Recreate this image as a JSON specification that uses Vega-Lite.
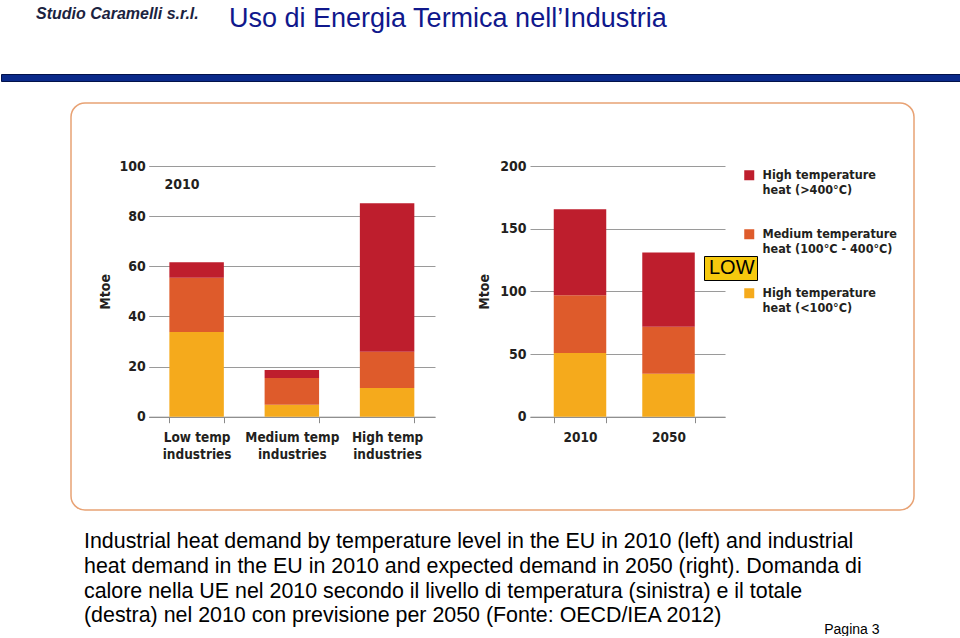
{
  "$schema": "https://vega.github.io/schema/vega-lite/v6.json",
  "background": "white",
  "padding": {"left": 0, "top": 5, "right": 0, "bottom": 0},
  "spacing": 20,
  "resolve": {"scale": {"color": "independent", "shape": "independent"}},
  "config": {
    "view": {"stroke": null},
    "font": "Liberation Sans",
    "axis": {
      "labelFont": "DejaVu Sans Condensed, DejaVu Sans, sans-serif",
      "titleFont": "DejaVu Sans Condensed, DejaVu Sans, sans-serif",
      "labelFontWeight": "bold",
      "titleFontWeight": "bold",
      "labelFontSize": 14,
      "titleFontSize": 14,
      "labelColor": "#231F20",
      "titleColor": "#231F20"
    }
  },
  "vconcat": [
    {
      "spacing": 10,
      "hconcat": [
        {
          "width": 218,
          "height": 1,
          "data": {"values": []},
          "mark": "point",
          "title": {
            "text": "Studio Caramelli s.r.l.",
            "anchor": "start",
            "dx": 35,
            "font": "Liberation Sans",
            "fontStyle": "italic",
            "fontWeight": "bold",
            "fontSize": 16,
            "color": "#1B2340",
            "offset": 30
          }
        },
        {
          "width": 732,
          "height": 1,
          "data": {"values": []},
          "mark": "point",
          "title": {
            "text": "Uso di Energia Termica nell’Industria",
            "anchor": "start",
            "font": "Liberation Sans",
            "fontSize": 27,
            "fontWeight": "normal",
            "color": "#10188C",
            "offset": 19
          }
        }
      ]
    },
    {
      "width": 960,
      "height": 7,
      "data": {"values": []},
      "mark": "point",
      "view": {"fill": "#0A2A8A", "stroke": "#03124A", "strokeWidth": 1}
    },
    {
      "spacing": 10,
      "resolve": {"scale": {"color": "independent", "shape": "independent"}},
      "hconcat": [
        {
          "width": 59,
          "height": 407,
          "data": {"values": []},
          "mark": "point"
        },
        {
          "width": 843,
          "height": 407,
          "view": {"fill": "white", "stroke": "#E8A274", "strokeWidth": 1.5, "cornerRadius": 14},
          "layer": [
            {
              "data": {
                "values": [
                  {"industry": "Low temp industries", "level": "Low", "tier": 1, "mtoe": 33.8},
                  {"industry": "Low temp industries", "level": "Medium", "tier": 2, "mtoe": 21.6},
                  {"industry": "Low temp industries", "level": "High", "tier": 3, "mtoe": 6.2},
                  {"industry": "Medium temp industries", "level": "Low", "tier": 1, "mtoe": 4.8},
                  {"industry": "Medium temp industries", "level": "Medium", "tier": 2, "mtoe": 10.6},
                  {"industry": "Medium temp industries", "level": "High", "tier": 3, "mtoe": 3.2},
                  {"industry": "High temp industries", "level": "Low", "tier": 1, "mtoe": 11.4},
                  {"industry": "High temp industries", "level": "Medium", "tier": 2, "mtoe": 14.5},
                  {"industry": "High temp industries", "level": "High", "tier": 3, "mtoe": 59.2}
                ]
              },
              "mark": {"type": "bar"},
              "encoding": {
                "x": {
                  "field": "industry",
                  "type": "nominal",
                  "scale": {
                    "domain": ["Low temp industries", "Medium temp industries", "High temp industries"],
                    "range": [77.7, 364],
                    "paddingInner": 0.428,
                    "paddingOuter": 0.217
                  },
                  "axis": {
                    "orient": "bottom",
                    "offset": -93.3,
                    "title": "2010",
                    "titleX": 93,
                    "titleY": -232.7,
                    "titleAlign": "left",
                    "titleBaseline": "middle",
                    "titleAngle": 0,
                    "domain": true,
                    "domainColor": "#8A8A8A",
                    "ticks": true,
                    "tickBand": "extent",
                    "tickColor": "#8A8A8A",
                    "tickSize": 6,
                    "labelAngle": 0,
                    "labelFontSize": 13.5,
                    "labelPadding": 8,
                    "labelLineHeight": 17,
                    "labelExpr": "datum.label ? [slice(datum.label, 0, indexof(datum.label, ' industries')), 'industries'] : ''",
                    "grid": false
                  }
                },
                "y": {
                  "field": "mtoe",
                  "type": "quantitative",
                  "stack": "zero",
                  "scale": {"domain": [0, 100], "range": [313.7, 63], "nice": false},
                  "axis": {
                    "orient": "left",
                    "offset": -77.7,
                    "values": [0, 20, 40, 60, 80, 100],
                    "grid": true,
                    "gridColor": "#9A9A9A",
                    "domain": false,
                    "ticks": false,
                    "labelPadding": 3.5,
                    "title": "Mtoe",
                    "titlePadding": 6
                  }
                },
                "color": {
                  "field": "level",
                  "type": "nominal",
                  "scale": {"domain": ["High", "Medium", "Low"], "range": ["#BE1E2D", "#DE5B2B", "#F5AA1C"]},
                  "legend": {
                    "orient": "none",
                    "legendX": 672,
                    "legendY": 66,
                    "title": null,
                    "symbolType": "square",
                    "symbolSize": 100,
                    "symbolStrokeWidth": 0,
                    "labelFont": "DejaVu Sans Condensed, DejaVu Sans, sans-serif",
                    "labelFontWeight": "bold",
                    "labelFontSize": 12.5,
                    "labelColor": "#231F20",
                    "labelOffset": 7,
                    "labelLimit": 220,
                    "rowPadding": 31,
                    "labelExpr": "datum.label == 'High' ? ['High temperature', 'heat (>400°C)'] : datum.label == 'Medium' ? ['Medium temperature', 'heat (100°C - 400°C)'] : ['High temperature', 'heat (<100°C)']"
                  }
                },
                "order": {"field": "tier", "type": "quantitative"}
              }
            },
            {
              "data": {
                "values": [
                  {"year": "2010", "level": "Low", "tier": 1, "mtoe": 50.8},
                  {"year": "2010", "level": "Medium", "tier": 2, "mtoe": 46.0},
                  {"year": "2010", "level": "High", "tier": 3, "mtoe": 68.6},
                  {"year": "2050", "level": "Low", "tier": 1, "mtoe": 34.3},
                  {"year": "2050", "level": "Medium", "tier": 2, "mtoe": 37.5},
                  {"year": "2050", "level": "High", "tier": 3, "mtoe": 59.1}
                ]
              },
              "mark": {"type": "bar"},
              "encoding": {
                "x": {
                  "field": "year",
                  "type": "nominal",
                  "scale": {
                    "domain": ["2010", "2050"],
                    "range": [459, 654],
                    "paddingInner": 0.407,
                    "paddingOuter": 0.305,
                    "align": 0.44
                  },
                  "axis": {
                    "orient": "bottom",
                    "offset": -93.3,
                    "title": null,
                    "domain": true,
                    "domainColor": "#8A8A8A",
                    "ticks": true,
                    "tickBand": "extent",
                    "tickColor": "#8A8A8A",
                    "tickSize": 6,
                    "labelAngle": 0,
                    "labelFontSize": 13.5,
                    "labelPadding": 8,
                    "grid": false
                  }
                },
                "y": {
                  "field": "mtoe",
                  "type": "quantitative",
                  "stack": "zero",
                  "scale": {"domain": [0, 200], "range": [313.7, 63], "nice": false},
                  "axis": {
                    "orient": "left",
                    "offset": -459,
                    "values": [0, 50, 100, 150, 200],
                    "grid": true,
                    "gridColor": "#9A9A9A",
                    "domain": false,
                    "ticks": false,
                    "labelPadding": 4,
                    "title": "Mtoe",
                    "titlePadding": 8
                  }
                },
                "color": {
                  "field": "level",
                  "type": "nominal",
                  "scale": {"domain": ["High", "Medium", "Low"], "range": ["#BE1E2D", "#DE5B2B", "#F5AA1C"]},
                  "legend": {
                    "orient": "none",
                    "legendX": 672,
                    "legendY": 66,
                    "title": null,
                    "symbolType": "square",
                    "symbolSize": 100,
                    "symbolStrokeWidth": 0,
                    "labelFont": "DejaVu Sans Condensed, DejaVu Sans, sans-serif",
                    "labelFontWeight": "bold",
                    "labelFontSize": 12.5,
                    "labelColor": "#231F20",
                    "labelOffset": 7,
                    "labelLimit": 220,
                    "rowPadding": 31,
                    "labelExpr": "datum.label == 'High' ? ['High temperature', 'heat (>400°C)'] : datum.label == 'Medium' ? ['Medium temperature', 'heat (100°C - 400°C)'] : ['High temperature', 'heat (<100°C)']"
                  }
                },
                "order": {"field": "tier", "type": "quantitative"}
              }
            },
            {
              "data": {"values": [{"note": "LOW"}]},
              "mark": {"type": "point", "opacity": 0},
              "encoding": {
                "shape": {
                  "field": "note",
                  "type": "nominal",
                  "legend": {
                    "orient": "none",
                    "legendX": 633,
                    "legendY": 153,
                    "title": null,
                    "fillColor": "#F6C90E",
                    "strokeColor": "#000000",
                    "padding": 2,
                    "symbolOpacity": 0,
                    "symbolSize": 1,
                    "labelFont": "Liberation Sans",
                    "labelFontSize": 20,
                    "labelFontWeight": "normal",
                    "labelColor": "#000000",
                    "labelOffset": -17
                  }
                }
              }
            }
          ],
          "resolve": {"scale": {"x": "independent", "y": "independent"}}
        }
      ]
    },
    {
      "width": 878,
      "height": 1,
      "data": {"values": [{"page": 3}]},
      "mark": {"type": "point", "opacity": 0},
      "encoding": {
        "x": {
          "field": "page",
          "type": "quantitative",
          "axis": {
            "title": "Pagina 3",
            "titleAnchor": "end",
            "titleFont": "Liberation Sans",
            "titleFontSize": 14,
            "titleFontWeight": "normal",
            "titleColor": "#000000",
            "titlePadding": 0,
            "domain": false,
            "ticks": false,
            "labels": false,
            "grid": false
          }
        }
      },
      "title": {
        "text": [
          "Industrial heat demand by temperature level in the EU in 2010 (left) and industrial",
          "heat demand in the EU in 2010 and expected demand in 2050 (right). Domanda di",
          "calore nella UE nel 2010 secondo il livello di temperatura (sinistra)  e il totale",
          "(destra) nel 2010 con previsione per 2050 (Fonte: OECD/IEA 2012)"
        ],
        "anchor": "start",
        "dx": 83,
        "font": "Liberation Sans",
        "fontSize": 21.4,
        "fontWeight": "normal",
        "color": "#000000",
        "lineHeight": 24.7,
        "offset": -8
      }
    }
  ]
}
